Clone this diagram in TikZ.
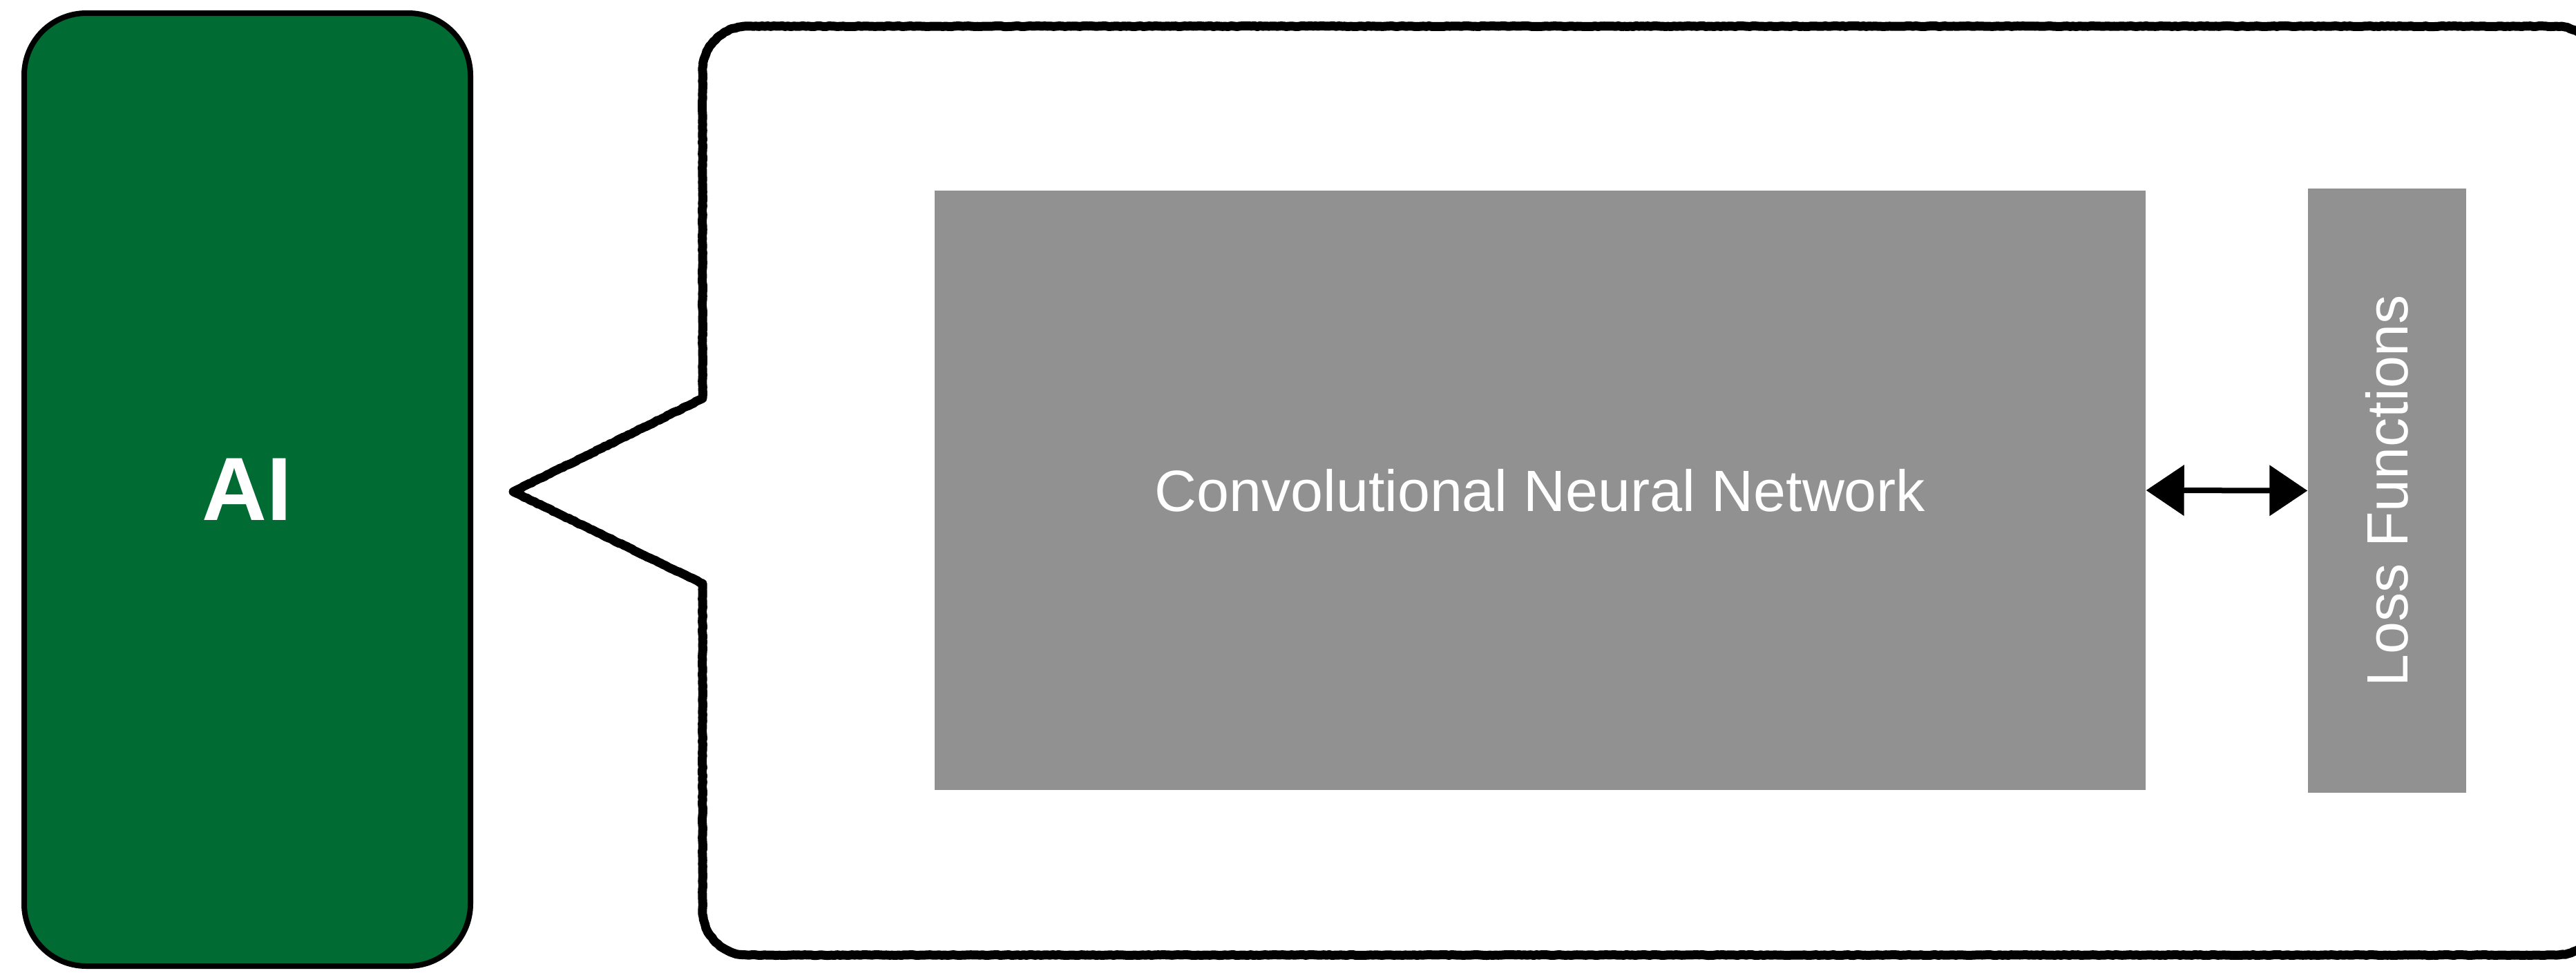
\documentclass[tikz,border=0pt]{standalone}
\usepackage{fontspec}
\setmainfont{Liberation Sans}
\usepackage{xcolor}
\usepackage{graphicx}
\usepackage{tikz}
\usetikzlibrary{arrows.meta,positioning,decorations.pathmorphing}
\definecolor{aigreen}{RGB}{0,107,51}
\definecolor{blockgray}{RGB}{145,145,145}

\begin{document}
\begin{tikzpicture}[
  aibox/.style={draw,line width=0.8mm,rounded corners=9mm,fill=aigreen,text=white,minimum width=64.6mm,minimum height=138mm,font=\fontsize{37}{44}\selectfont\bfseries},
  block/.style={fill=blockgray,text=white,inner sep=0pt,font=\fontsize{24}{29}\selectfont},
  bubble/.style={line width=1.3mm,line join=round,decorate,decoration={random steps,segment length=1.2pt,amplitude=0.15pt}},
  arr/.style={{Triangle[length=5.5mm,width=7.2mm]}-{Triangle[length=5.5mm,width=7.2mm]},line width=0.8mm}
]
  \clip (0,0) rectangle (37.29,-14.08);
  \node[aibox] (ai) at (3.58,-7.09) {AI};

  \draw[bubble] (7.43,-7.12) -- (10.17,-5.77) -- (10.17,-1.03)
    arc[start angle=180,end angle=90,radius=0.65] -- (37.00,-0.38)
    arc[start angle=90,end angle=0,radius=0.65] -- (37.65,-13.18)
    arc[start angle=0,end angle=-90,radius=0.65] -- (10.82,-13.83)
    arc[start angle=270,end angle=180,radius=0.65] -- (10.17,-8.45) -- cycle;

  \node[block,minimum width=175.3mm,minimum height=86.8mm] (cnn) at (22.295,-7.10) {Convolutional Neural Network};
  \node[block,minimum width=22.9mm,minimum height=87.5mm] (loss) at (34.555,-7.105) {\rotatebox{90}{Loss Functions}};
  \draw[arr] (cnn.east) -- (loss.west);
\end{tikzpicture}
\end{document}
